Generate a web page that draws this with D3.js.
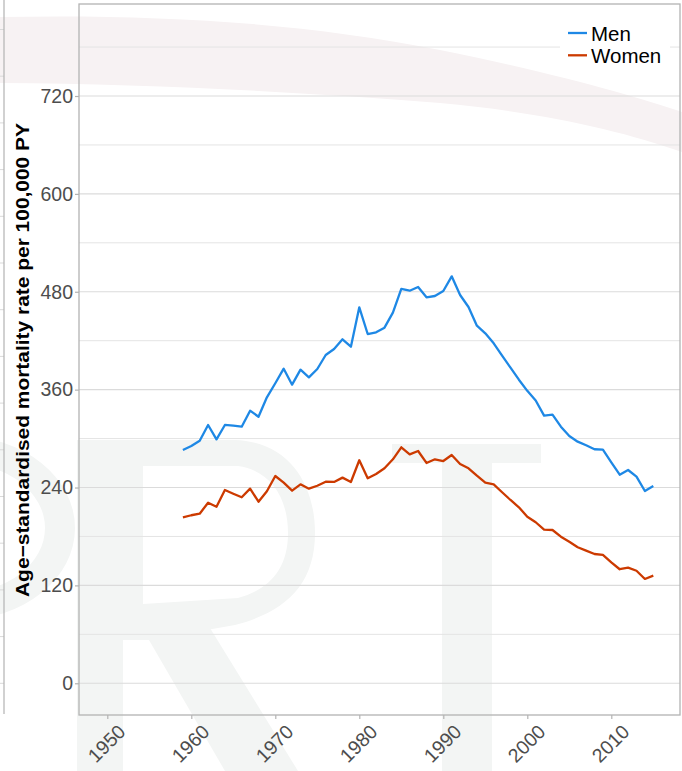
<!DOCTYPE html>
<html>
<head>
<meta charset="utf-8">
<script src="https://cdn.jsdelivr.net/npm/d3@7"></script>
<style>
  html, body { margin: 0; padding: 0; background: #fff; }
  svg { display: block; font-family: "Liberation Sans", Arial, sans-serif; }
</style>
</head>
<body>
<svg id="chart" width="682" height="771"></svg>
<script>
// ---- data ----
const years = d3.range(1959, 2016);
const men = [286.0, 290.9, 297.4, 316.7, 299.1, 316.7, 315.8, 314.6, 334.2, 326.8,
             350.6, 367.8, 385.7, 366.1, 384.5, 375.1, 385.3, 402.5, 409.8, 421.7,
             412.6, 460.9, 428.2, 430.3, 436.0, 454.4, 483.4, 481.3, 485.8, 473.2,
             474.8, 480.9, 498.9, 476.0, 461.3, 438.4, 429.1, 416.8, 401.6, 386.9,
             372.2, 358.5, 346.7, 328.1, 329.3, 314.6, 303.2, 296.2, 291.8, 286.9,
             286.4, 270.9, 255.7, 261.5, 253.3, 235.7, 241.9];
const women = [203.5, 206.0, 207.9, 221.4, 216.5, 237.0, 232.4, 228.0, 238.6, 222.6,
               235.4, 254.1, 245.9, 236.1, 243.9, 238.6, 242.2, 247.1, 246.8, 252.1,
               246.8, 273.4, 251.3, 256.6, 263.6, 274.6, 289.3, 280.7, 284.8, 270.1,
               274.6, 272.5, 279.9, 268.8, 263.6, 254.5, 245.9, 243.9, 234.2, 224.7,
               215.8, 204.2, 197.4, 188.3, 187.9, 179.7, 173.6, 166.7, 162.6, 158.5,
               157.3, 148.3, 139.8, 141.7, 138.0, 127.9, 131.9];
const seriesNames = ["Men", "Women"];
const seriesColors = ["#1e88e5", "#cc3a00"];
const xTicks = [1950, 1960, 1970, 1980, 1990, 2000, 2010];
const yTicks = [0, 120, 240, 360, 480, 600, 720];
const yMinor = [60, 180, 300, 420, 540, 660, 780];
const yTitle = "Age\u2212standardised mortality rate per 100,000 PY";

// ---- layout ----
const L = 79, R = 680, T = 4, B = 715;
const svg = d3.select("#chart");
const x = d3.scaleLinear().domain([1946.631, 2018.179]).range([L, R]);
const y = d3.scaleLinear().domain([-38.9, 832.8]).range([B, T]);

// ---- watermark (faint background) ----
const wm = svg.append("g");
wm.append("path")
  .attr("d", "M0,17 C150,14 300,22 440,50 C560,74 640,98 682,112 L682,152 C620,130 540,112 440,103 C300,92 150,84 0,83 Z")
  .attr("fill", "#f7f2f3");
const grey = "#f3f5f4";
// P (partial, far left)
wm.append("path")
  .attr("fill-rule", "evenodd")
  .attr("d", "M-40,436 A115,92 0 1,1 -40,620 A115,92 0 1,1 -40,436 Z M-40,463 A85,65 0 1,0 -40,593 A85,65 0 1,0 -40,463 Z")
  .attr("fill", grey);
// R
wm.append("rect").attr("x", 77).attr("y", 440).attr("width", 46).attr("height", 331).attr("fill", grey);
wm.append("path")
  .attr("fill-rule", "evenodd")
  .attr("d", "M100,440 H235 C290,442 315,485 315,533 C315,585 285,612 235,625 L150,640 L123,640 V440 Z M143,466 H238 C268,470 288,495 288,533 C288,570 268,590 238,598 L143,604 Z")
  .attr("fill", grey);
wm.append("path").attr("d", "M142,628 L210,628 L298,771 L225,771 Z").attr("fill", grey);
// T
wm.append("path")
  .attr("d", "M392,444 H541 V463 H492 V771 H442 V463 H392 Z")
  .attr("fill", grey);

// ---- remnants of neighbouring panel at far left ----
const lp = svg.append("g");
d3.range(0, 15).forEach(k => {
  lp.append("line").attr("x1", 0).attr("x2", 4)
    .attr("y1", 29.5 + k * 46.7).attr("y2", 29.5 + k * 46.7)
    .attr("stroke", "#d9d9d9").attr("stroke-width", 1);
});
lp.append("line").attr("x1", 4).attr("x2", 4).attr("y1", 0).attr("y2", 714)
  .attr("stroke", "#b3b3b3").attr("stroke-width", 1.2);

// ---- gridlines ----
const grid = svg.append("g");
grid.selectAll("line.minor").data(yMinor).enter().append("line")
  .attr("x1", L).attr("x2", R).attr("y1", d => y(d)).attr("y2", d => y(d))
  .attr("stroke", "#e4e4e4").attr("stroke-width", 1);
grid.selectAll("line.major").data(yTicks).enter().append("line")
  .attr("x1", L).attr("x2", R).attr("y1", d => y(d)).attr("y2", d => y(d))
  .attr("stroke", "#dbdbdb").attr("stroke-width", 1.2);

// ---- lines ----
const line = d3.line().x((d, i) => x(years[i])).y(d => y(d));
[men, women].forEach((s, i) => {
  svg.append("path").datum(s).attr("d", line)
    .attr("fill", "none").attr("stroke", seriesColors[i])
    .attr("stroke-width", 2.3).attr("stroke-linejoin", "round");
});

// ---- panel border ----
svg.append("rect").attr("x", L).attr("y", T).attr("width", R - L).attr("height", B - T)
  .attr("fill", "none").attr("stroke", "#b3b3b3").attr("stroke-width", 1.3);

// ---- axes ----
const xAxis = svg.append("g").attr("transform", `translate(0,${B})`)
  .call(d3.axisBottom(x).tickValues(xTicks).tickSize(4).tickFormat(d3.format("d")));
xAxis.select(".domain").remove();
xAxis.selectAll(".tick line").attr("stroke", "#b3b3b3").attr("stroke-width", 1.2);
xAxis.selectAll(".tick text")
  .attr("fill", "#4d4d4d").attr("font-size", "19.5px").attr("font-family", "Liberation Sans, Arial, sans-serif")
  .attr("text-anchor", "end").attr("dy", null).attr("y", null)
  .attr("transform", "translate(19,18) rotate(-45)");

const yAxis = svg.append("g").attr("transform", `translate(${L},0)`)
  .call(d3.axisLeft(y).tickValues(yTicks).tickSize(4).tickPadding(2));
yAxis.select(".domain").remove();
yAxis.selectAll(".tick line").attr("stroke", "#b3b3b3").attr("stroke-width", 1.2);
yAxis.selectAll(".tick text")
  .attr("fill", "#4d4d4d").attr("font-size", "19.5px").attr("font-family", "Liberation Sans, Arial, sans-serif");

// ---- y title ----
svg.append("text")
  .attr("transform", "translate(29,360) rotate(-90)")
  .attr("text-anchor", "middle")
  .attr("font-weight", "bold").attr("font-size", "18px").attr("fill", "#000")
  .attr("textLength", 474).attr("lengthAdjust", "spacingAndGlyphs")
  .text(yTitle);

// ---- legend ----
const lg = svg.append("g");
lg.append("rect").attr("x", 560).attr("y", 16).attr("width", 110).attr("height", 56).attr("fill", "#fff");
seriesNames.forEach((n, i) => {
  const cy = 33 + i * 22.3;
  lg.append("line").attr("x1", 568).attr("x2", 587).attr("y1", cy).attr("y2", cy)
    .attr("stroke", seriesColors[i]).attr("stroke-width", 2.3);
  lg.append("text").attr("x", 591).attr("y", cy + 8).attr("font-size", "20.5px")
    .attr("fill", "#000").text(n);
});
</script>
</body>
</html>
